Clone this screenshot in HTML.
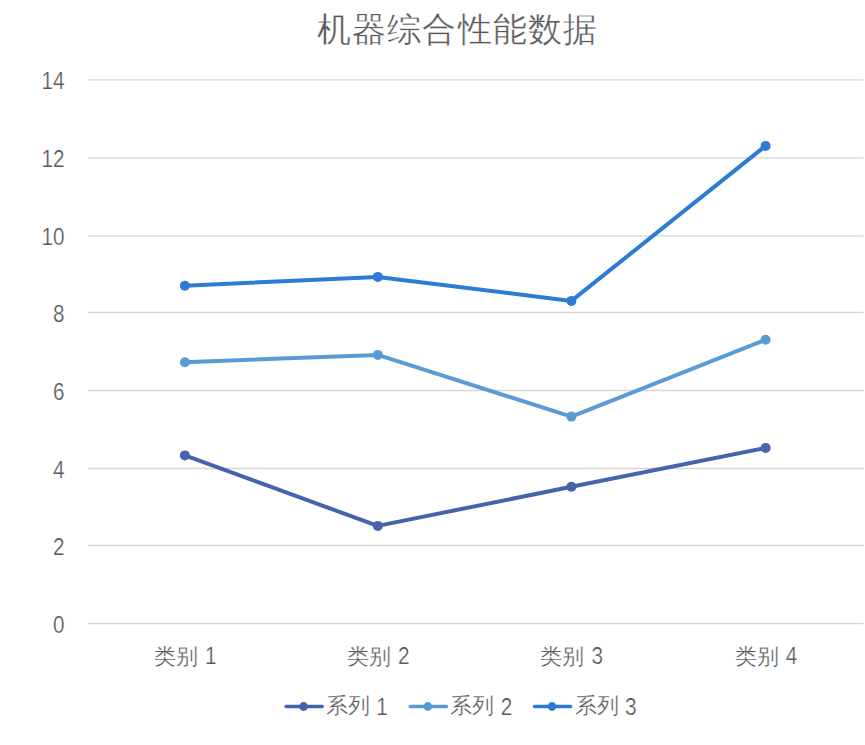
<!DOCTYPE html>
<html><head><meta charset="utf-8">
<style>
html,body{margin:0;padding:0;background:#fff;width:865px;height:745px;overflow:hidden}
svg{display:block;font-family:"Liberation Sans",sans-serif}
.t{fill:#595959;stroke:#fff;stroke-width:0.25px}
.tt{stroke-width:0.35px}
</style></head><body>
<svg width="865" height="745" viewBox="0 0 865 745">
<g stroke="#d7d7d7" stroke-width="1.35">
<line x1="88" y1="79.9" x2="863.5" y2="79.9"/>
<line x1="88" y1="157.9" x2="863.5" y2="157.9"/>
<line x1="88" y1="235.9" x2="863.5" y2="235.9"/>
<line x1="88" y1="312.5" x2="863.5" y2="312.5"/>
<line x1="88" y1="390.5" x2="863.5" y2="390.5"/>
<line x1="88" y1="468.5" x2="863.5" y2="468.5"/>
<line x1="88" y1="545.5" x2="863.5" y2="545.5"/>
<line x1="88" y1="623.5" x2="863.5" y2="623.5"/>
</g>
<text class="t tt" x="457.6" y="41.2" font-size="34" letter-spacing="1.1" text-anchor="middle">机器综合性能数据</text>
<g class="t" font-size="23" text-anchor="end">
<text transform="translate(64.6,89.4) scale(0.9,1)">14</text>
<text transform="translate(64.6,167.4) scale(0.9,1)">12</text>
<text transform="translate(64.6,245.4) scale(0.9,1)">10</text>
<text transform="translate(64.6,322.0) scale(0.9,1)">8</text>
<text transform="translate(64.6,400.0) scale(0.9,1)">6</text>
<text transform="translate(64.6,478.0) scale(0.9,1)">4</text>
<text transform="translate(64.6,555.0) scale(0.9,1)">2</text>
<text transform="translate(64.6,633.0) scale(0.9,1)">0</text>
</g>
<g class="t" font-size="23">
<text x="153.9" y="663.7" font-size="22">类别</text><text transform="translate(205.0,664.2) scale(0.9,1)">1</text>
<text x="346.8" y="663.7" font-size="22">类别</text><text transform="translate(397.9,664.2) scale(0.9,1)">2</text>
<text x="540.4" y="663.7" font-size="22">类别</text><text transform="translate(591.5,664.2) scale(0.9,1)">3</text>
<text x="734.6" y="663.7" font-size="22">类别</text><text transform="translate(785.7,664.2) scale(0.9,1)">4</text>
</g>
<g fill="none" stroke-width="4" stroke-linejoin="round" stroke-linecap="round">
<polyline stroke="#4464ad" points="184.9,455.4 377.8,525.9 571.4,486.8 765.6,447.9"/>
<polyline stroke="#5b9bd5" points="184.9,362.2 377.8,354.9 571.4,416.6 765.6,339.8"/>
<polyline stroke="#2e7bd6" points="184.9,285.7 377.8,276.9 571.4,300.9 765.6,145.9"/>
</g>
<g fill="#4464ad"><circle cx="184.9" cy="455.4" r="5"/><circle cx="377.8" cy="525.9" r="5"/><circle cx="571.4" cy="486.8" r="5"/><circle cx="765.6" cy="447.9" r="5"/></g>
<g fill="#5b9bd5"><circle cx="184.9" cy="362.2" r="5"/><circle cx="377.8" cy="354.9" r="5"/><circle cx="571.4" cy="416.6" r="5"/><circle cx="765.6" cy="339.8" r="5"/></g>
<g fill="#2e7bd6"><circle cx="184.9" cy="285.7" r="5"/><circle cx="377.8" cy="276.9" r="5"/><circle cx="571.4" cy="300.9" r="5"/><circle cx="765.6" cy="145.9" r="5"/></g>
<g stroke-width="3.3" stroke-linecap="round">
<line x1="286.0" y1="706.5" x2="322.3" y2="706.5" stroke="#4464ad"/>
<line x1="410.2" y1="706.5" x2="446.5" y2="706.5" stroke="#5b9bd5"/>
<line x1="534.4" y1="706.5" x2="570.7" y2="706.5" stroke="#2e7bd6"/>
</g>
<circle cx="303.6" cy="706.5" r="4.4" fill="#4464ad"/>
<circle cx="427.8" cy="706.5" r="4.4" fill="#5b9bd5"/>
<circle cx="552.0" cy="706.5" r="4.4" fill="#2e7bd6"/>
<g class="t" font-size="23">
<text x="326.0" y="713.4" font-size="22">系列</text><text transform="translate(376.3,714.6) scale(0.9,1)">1</text>
<text x="450.4" y="713.4" font-size="22">系列</text><text transform="translate(500.7,714.6) scale(0.9,1)">2</text>
<text x="574.8" y="713.4" font-size="22">系列</text><text transform="translate(625.1,714.6) scale(0.9,1)">3</text>
</g>
</svg>
</body></html>
